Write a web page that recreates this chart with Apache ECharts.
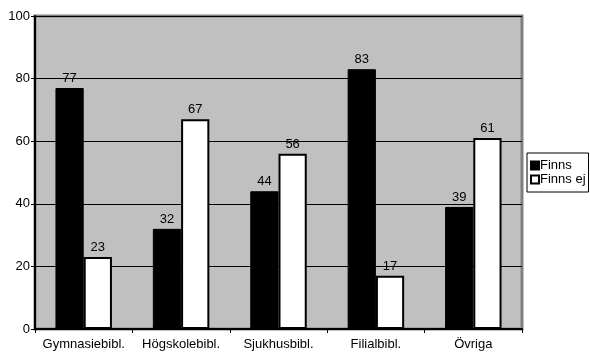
<!DOCTYPE html>
<html>
<head>
<meta charset="utf-8">
<script src="https://cdn.jsdelivr.net/npm/echarts@6/dist/echarts.min.js"></script>
<style>
  html, body { margin: 0; padding: 0; background: #fff; }
  #container { width: 590px; height: 355px; }
</style>
</head>
<body>
<div id="container"></div>
<script>
var categories = ['Gymnasiebibl.', 'Högskolebibl.', 'Sjukhusbibl.', 'Filialbibl.', 'Övriga'];
var finns = [77, 32, 44, 83, 39];
var finnsEj = [23, 67, 56, 17, 61];
var seriesNames = ['Finns', 'Finns ej'];

var dom = document.getElementById('container');
var myChart = echarts.init(dom);

var labelStyle = {
    show: true,
    position: 'top',
    distance: 3,
    color: '#000',
    fontFamily: 'Liberation Sans, Arial',
    fontSize: 13
};

var option = {
    backgroundColor: '#FFFFFF',
    animation: false,
    textStyle: { fontFamily: 'Liberation Sans, Arial' },
    grid: {
        left: 35,
        right: 68,
        top: 16,
        bottom: 26,
        show: true,
        backgroundColor: '#c0c0c0',
        borderColor: '#808080',
        borderWidth: 3
    },
    legend: {
        orient: 'vertical',
        left: 527,
        top: 153,
        padding: [6, 3, 6, 3],
        itemGap: 1,
        itemWidth: 8,
        itemHeight: 8,
        borderColor: '#000',
        borderWidth: 1,
        borderRadius: 0,
        icon: 'rect',
        textStyle: { color: '#000', fontSize: 13, padding: [0, 0, 0, -4] },
        data: seriesNames
    },
    xAxis: {
        type: 'category',
        data: categories,
        axisLine: { lineStyle: { color: '#000', width: 2 } },
        axisTick: { show: true, length: 4, lineStyle: { color: '#000' } },
        axisLabel: { color: '#000', fontSize: 13, margin: 9, interval: 0 }
    },
    yAxis: {
        type: 'value',
        min: 0,
        max: 100,
        interval: 20,
        axisLine: { show: true, lineStyle: { color: '#000', width: 2 } },
        axisTick: { show: true, length: 4, lineStyle: { color: '#000' } },
        axisLabel: { color: '#000', fontSize: 13, margin: 5 },
        splitLine: { show: true, lineStyle: { color: '#000', width: 1 } }
    },
    series: [
        {
            name: seriesNames[0],
            type: 'bar',
            data: finns,
            barGap: '0%',
            barCategoryGap: '42%',
            itemStyle: { color: '#000', borderColor: '#000', borderWidth: 1 },
            label: labelStyle
        },
        {
            name: seriesNames[1],
            type: 'bar',
            data: finnsEj,
            itemStyle: { color: '#fff', borderColor: '#000', borderWidth: 2 },
            label: labelStyle
        }
    ]
};

myChart.setOption(option);
window.onresize = function () {
    myChart.resize();
};
</script>
</body>
</html>
